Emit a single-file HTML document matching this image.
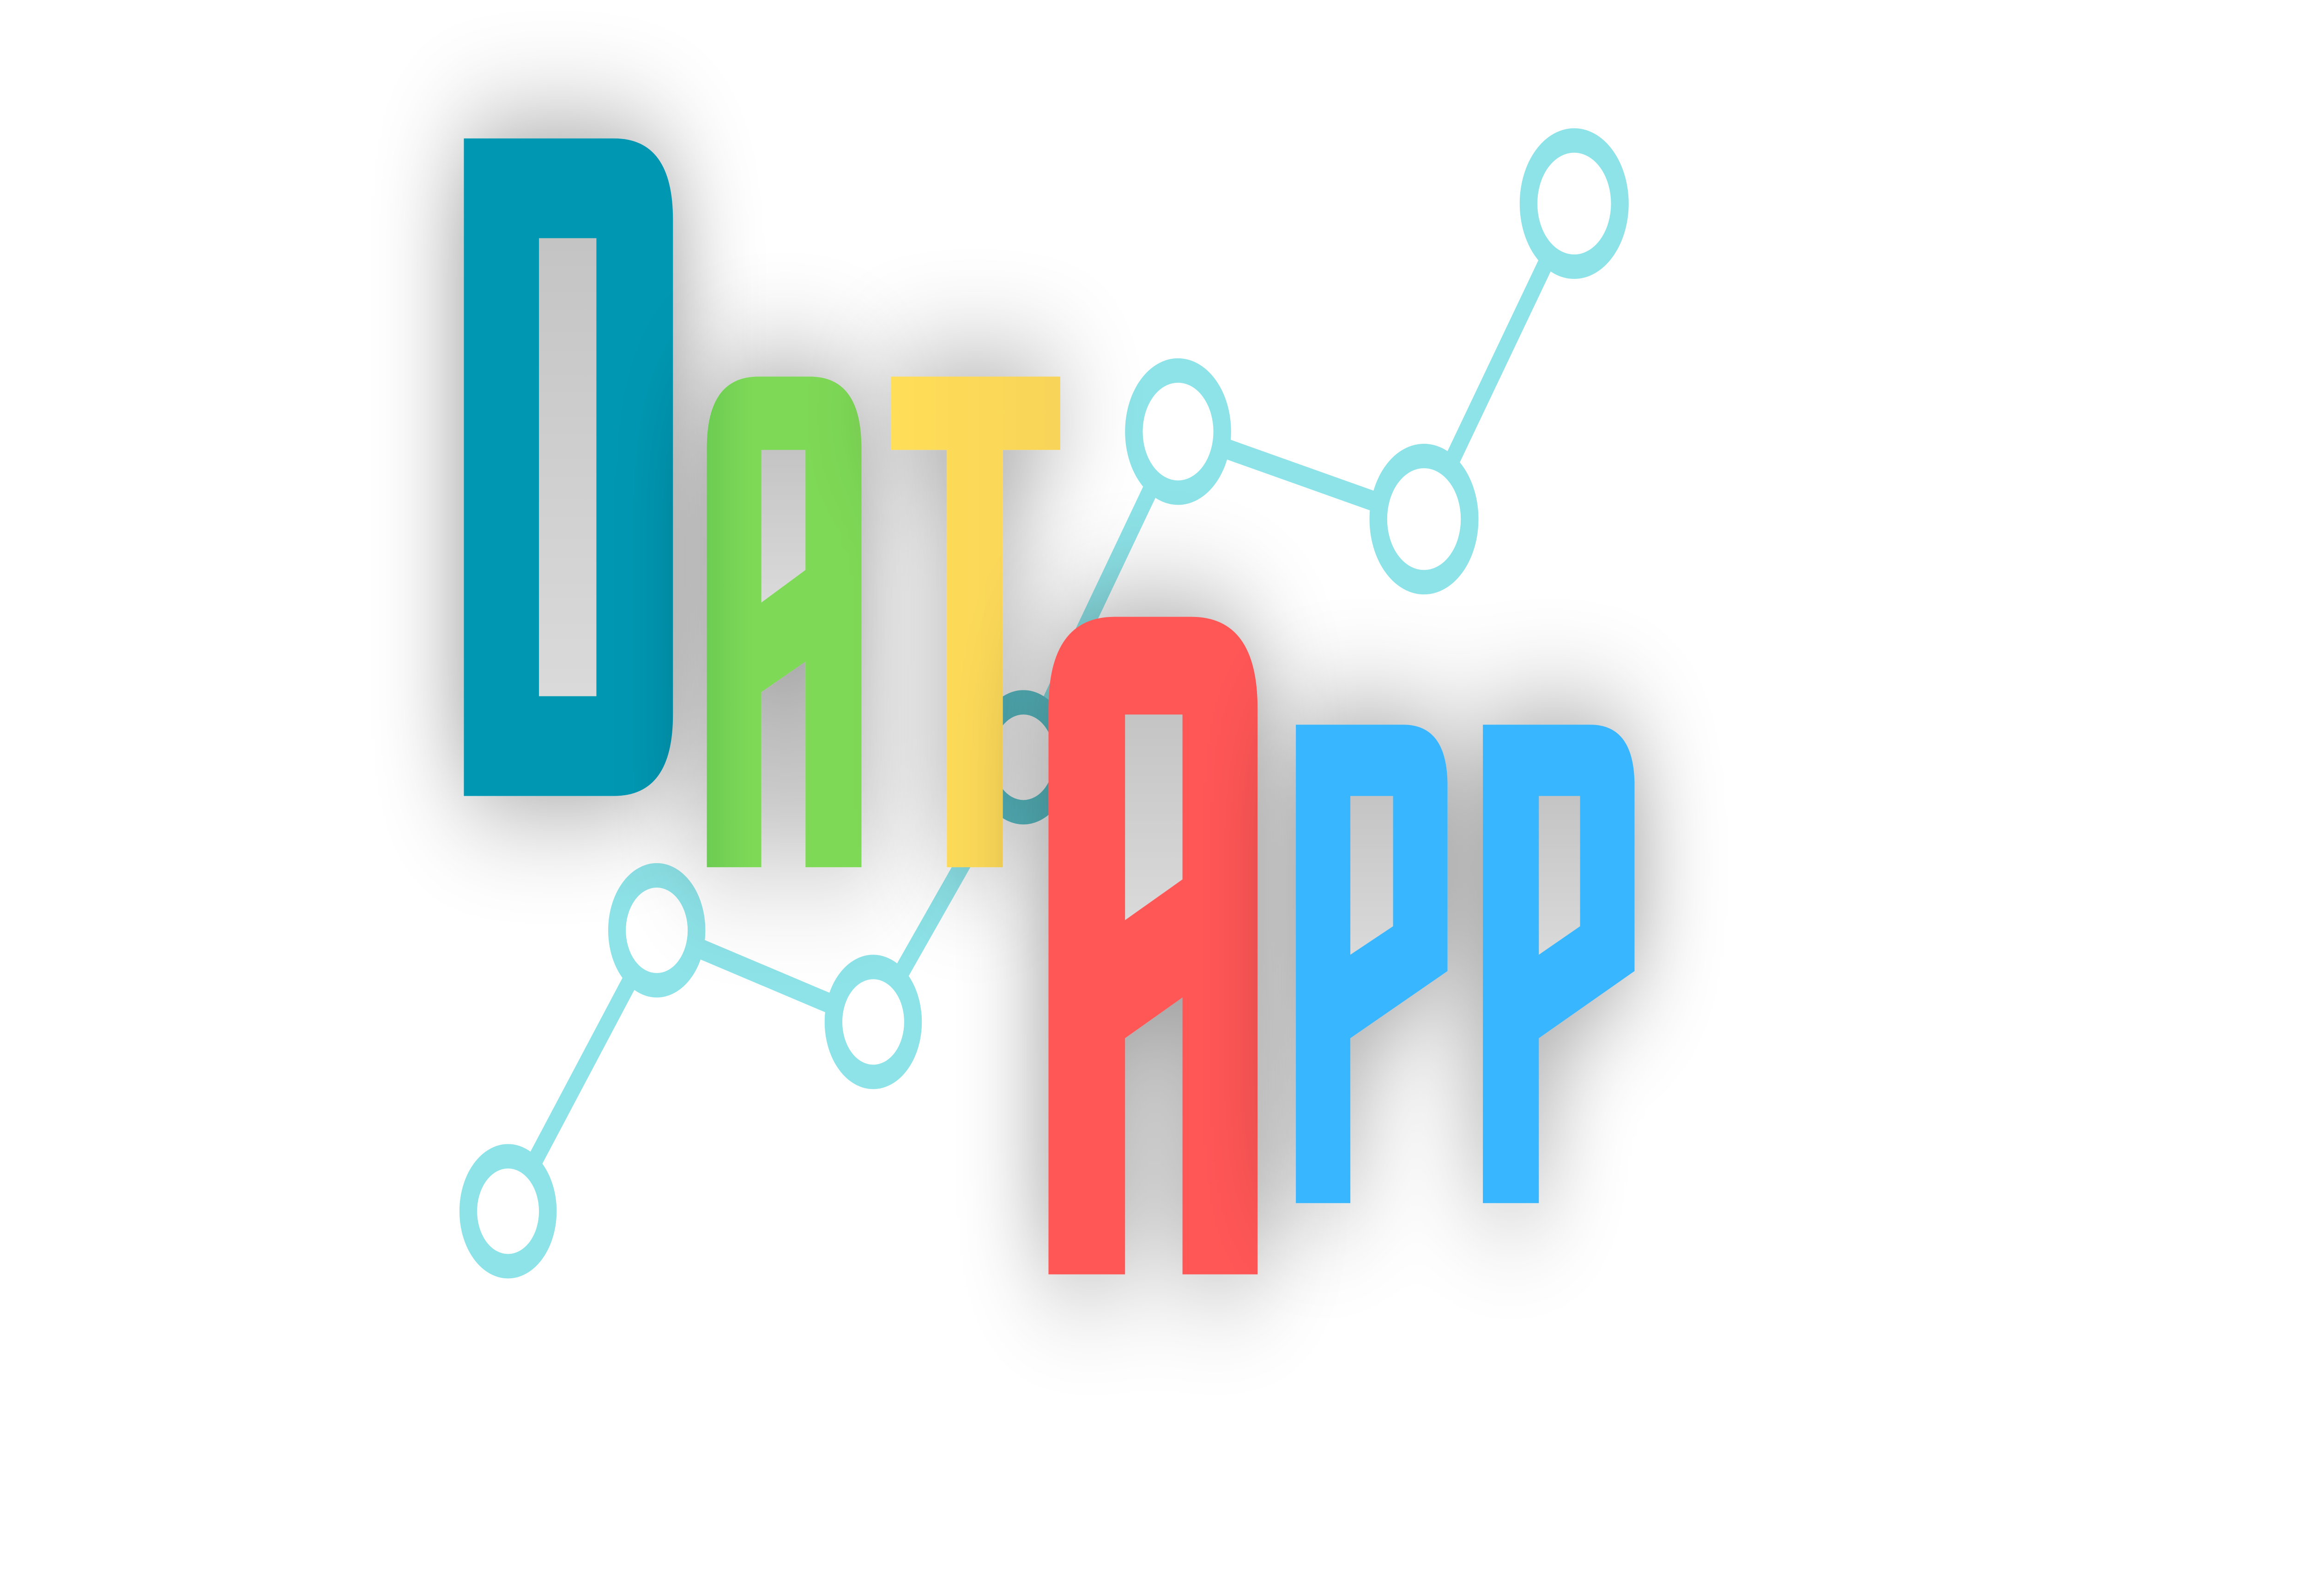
<!DOCTYPE html>
<html><head><meta charset="utf-8"><style>
html,body{margin:0;padding:0;background:#fff;width:100%;height:100%;overflow:hidden}
svg{display:block;position:fixed;left:0;top:0;width:100vw;height:100vh}
</style></head><body>
<svg viewBox="0 0 1568 784" preserveAspectRatio="none" xmlns="http://www.w3.org/2000/svg">
<defs>
<filter id="sh" x="-60%" y="-60%" width="220%" height="220%">
<feGaussianBlur in="SourceAlpha" stdDeviation="30"/>
<feComponentTransfer><feFuncA type="linear" slope="0.42"/></feComponentTransfer>
<feMerge><feMergeNode/><feMergeNode in="SourceGraphic"/></feMerge>
</filter>
<linearGradient id="hole" x1="0" y1="0" x2="0" y2="1"><stop offset="0" stop-color="#c4c4c4"/><stop offset="1" stop-color="#dadada"/></linearGradient>
<linearGradient id="gr" x1="0" y1="0" x2="1" y2="0"><stop offset="0" stop-color="#6ccc52"/><stop offset="0.3" stop-color="#7ed957"/></linearGradient>
<linearGradient id="ye" x1="0" y1="0" x2="1" y2="0"><stop offset="0" stop-color="#ffde59"/><stop offset="1" stop-color="#f8d458"/></linearGradient>
</defs>
<rect width="1568" height="784" fill="#fff"/>
<g stroke="#8de3e8" stroke-width="10" fill="none">
<polyline points="345,595 446,457 593,502 695,372 800,212 967,255 1069,100"/>
</g>
<g fill="#fff" stroke="#8de3e8" stroke-width="12">
<circle cx="345" cy="595" r="27"/>
<circle cx="446" cy="457" r="27"/>
<circle cx="593" cy="502" r="27"/>
<circle cx="695" cy="372" r="27" stroke="#5cc4cc"/>
<circle cx="800" cy="212" r="30"/>
<circle cx="967" cy="255" r="31"/>
<circle cx="1069" cy="100" r="31"/>
</g>
<g filter="url(#sh)">
<path d="M315,68 H417 Q457,68 457,108 V351 Q457,391 417,391 H315 Z" fill="#0097b2"/>
</g>
<rect x="366" y="117" width="39" height="225" fill="url(#hole)"/>
<g filter="url(#sh)">
<path d="M480,220 Q480,185 515,185 H550 Q585,185 585,220 V426 H547 V325 L517,340 V426 H480 Z" fill="url(#gr)"/>
</g>
<path d="M517,221 H547 V280 L517,296 Z" fill="url(#hole)"/>
<g filter="url(#sh)">
<path d="M605,185 H720 V221 H681 V426 H643 V221 H605 Z" fill="url(#ye)"/>
</g>
<g filter="url(#sh)">
<path d="M712,348 Q712,303 757,303 H809 Q854,303 854,348 V626 H803 V490 L764,510 V626 H712 Z" fill="#ff5757"/>
</g>
<path d="M764,351 H803 V432 L764,452 Z" fill="url(#hole)"/>
<g filter="url(#sh)">
<path d="M880,356 H953 Q983,356 983,386 V477 L917,510 V591 H880 Z" fill="#38b6ff"/>
<path d="M1007,356 H1080 Q1110,356 1110,386 V477 L1045,510 V591 H1007 Z" fill="#38b6ff"/>
</g>
<path d="M917,391 H946 V455 L917,469 Z" fill="url(#hole)"/>
<path d="M1045,391 H1073 V455 L1045,469 Z" fill="url(#hole)"/>
</svg>
</body></html>
